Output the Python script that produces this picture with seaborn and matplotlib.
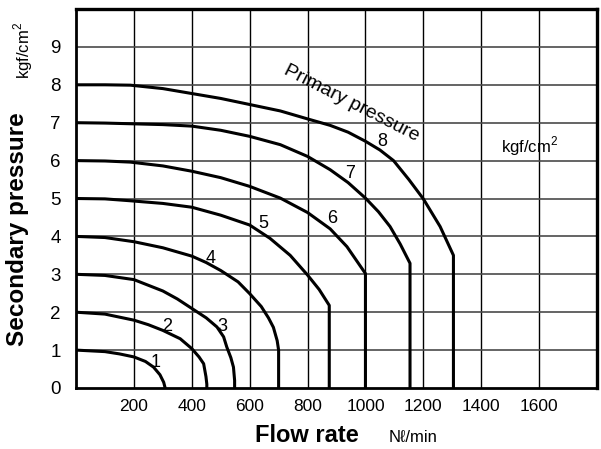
import matplotlib
matplotlib.use("Agg")
import matplotlib.pyplot as plt
import seaborn as sns
import pandas as pd

# Secondary pressure vs flow rate, one curve per primary pressure (kgf/cm2)
primary = [1, 2, 3, 4, 5, 6, 7, 8]
flow = [
    [0, 100, 150, 200, 240, 268, 290, 303, 308],
    [0, 100, 200, 250, 300, 360, 400, 425, 441, 449, 452, 452],
    [0, 100, 200, 300, 350, 400, 450, 487, 510, 521, 535, 544, 548, 548],
    [0, 100, 200, 300, 400, 450, 500, 560, 600, 640, 665, 682, 695, 700, 700],
    [0, 100, 188, 300, 400, 500, 600, 670, 740, 800, 840, 875, 875],
    [0, 100, 188, 300, 400, 500, 600, 706, 800, 878, 936, 1000, 1000],
    [0, 100, 200, 300, 400, 500, 600, 706, 800, 878, 940, 1000, 1045, 1085,
     1120, 1154, 1154],
    [0, 100, 188, 300, 400, 500, 600, 706, 800, 878, 940, 1000, 1050, 1097,
     1150, 1200, 1258, 1304, 1304],
]
secondary = [
    [1, 0.96, 0.9, 0.82, 0.7, 0.55, 0.35, 0.15, 0],
    [2, 1.95, 1.79, 1.67, 1.52, 1.3, 1.04, 0.82, 0.64, 0.3, 0.1, 0],
    [3, 2.97, 2.86, 2.56, 2.35, 2.1, 1.85, 1.61, 1.35, 1.08, 0.8, 0.55, 0.2, 0],
    [4, 3.97, 3.86, 3.7, 3.48, 3.31, 3.1, 2.8, 2.49, 2.15, 1.85, 1.6, 1.25,
     1.0, 0],
    [5, 4.99, 4.94, 4.87, 4.77, 4.56, 4.3, 3.95, 3.5, 2.98, 2.6, 2.18, 0],
    [6, 5.99, 5.96, 5.86, 5.72, 5.55, 5.32, 5.01, 4.63, 4.2, 3.73, 3.02, 0],
    [7, 6.99, 6.97, 6.95, 6.91, 6.8, 6.64, 6.42, 6.11, 5.76, 5.42, 5.01, 4.65,
     4.26, 3.8, 3.29, 0],
    [8, 8.0, 7.99, 7.9, 7.77, 7.64, 7.48, 7.31, 7.1, 6.93, 6.75, 6.51, 6.28,
     6.0, 5.5, 4.99, 4.26, 3.5, 0],
]
# where the curve numbers sit
label_x = [274, 315, 505, 464, 648, 884, 947, 1057]
label_y = [0.68, 1.61, 1.61, 3.42, 4.35, 4.46, 5.67, 6.51]

x_ticks = [200, 400, 600, 800, 1000, 1200, 1400, 1600]
y_ticks = [0, 1, 2, 3, 4, 5, 6, 7, 8, 9]

rows = []
for p, xs, ys in zip(primary, flow, secondary):
    for x, y in zip(xs, ys):
        rows.append({"primary": p, "flow": x, "secondary": y})
df = pd.DataFrame(rows)

sns.set_style("white")
plt.rcParams["font.family"] = ["Liberation Sans", "DejaVu Sans"]
plt.rcParams["mathtext.fontset"] = "custom"
plt.rcParams["mathtext.rm"] = "Liberation Sans"
plt.rcParams["text.color"] = "black"
plt.rcParams["xtick.color"] = "black"
plt.rcParams["ytick.color"] = "black"
plt.rcParams["axes.labelcolor"] = "black"

fig = plt.figure(figsize=(6.01, 4.49), dpi=100)
ax = fig.add_axes([76 / 601, 61 / 449, 521 / 601, 379 / 449])

sns.lineplot(data=df, x="flow", y="secondary", units="primary", estimator=None,
             sort=False, color="black", lw=2.2, ax=ax, zorder=3,
             solid_joinstyle="round")

ax.set_xlim(0, 1800)
ax.set_ylim(0, 10)
ax.set_xticks(x_ticks)
ax.set_yticks(y_ticks)
ax.set_xlabel("")
ax.set_ylabel("")

# grid
for gx in x_ticks:
    ax.axvline(gx, color="black", lw=1.0, zorder=1)
for gy in y_ticks[1:]:
    ax.axhline(gy, color="#4a4a4a", lw=1.2, zorder=1)

for sp in ax.spines.values():
    sp.set_visible(True)
    sp.set_color("black")
    sp.set_linewidth(2.0)
ax.spines["top"].set_linewidth(2.4)
ax.spines["right"].set_linewidth(2.4)

ax.tick_params(axis="y", length=0, pad=11, labelsize=13.5, colors="black")
ax.tick_params(axis="x", length=0, pad=8, labelsize=12.5, colors="black")

for p, lx, ly in zip(primary, label_x, label_y):
    ax.text(lx, ly, str(p), ha="center", va="center", fontsize=13, zorder=4)

ax.text(950, 7.5, "Primary pressure", rotation=-27, rotation_mode="anchor",
        ha="center", va="center", fontsize=14)
ax.text(1566, 6.37, r"kgf/cm$^{\mathrm{2}}$", ha="center", va="center", fontsize=12)

fig.text(18 / 601, 1 - 229 / 449, "Secondary pressure", rotation=90,
         ha="center", va="center", fontsize=17.5, fontweight="bold")
fig.text(23 / 601, 1 - 50 / 449, r"kgf/cm$^{\mathrm{2}}$", rotation=90,
         ha="center", va="center", fontsize=12)
fig.text(307 / 601, 1 - 436 / 449, "Flow rate", ha="center", va="center",
         fontsize=17, fontweight="bold")
fig.text(413 / 601, 1 - 437 / 449, "N\u2113/min", ha="center", va="center",
         fontsize=12)

fig.savefig("out.png", dpi=100)
